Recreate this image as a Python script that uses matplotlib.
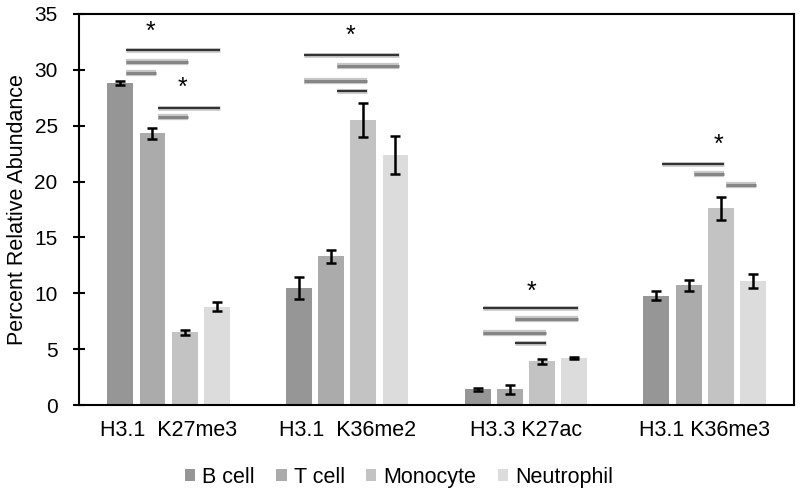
import numpy as np
import matplotlib.pyplot as plt

plt.rcParams['font.family'] = ['Liberation Sans', 'DejaVu Sans']

# data
marks = ['H3.1  K27me3', 'H3.1  K36me2', 'H3.3 K27ac', 'H3.1 K36me3']
cells = ['B cell', 'T cell', 'Monocyte', 'Neutrophil']
colors = ['#969696', '#ababab', '#c3c3c3', '#dcdcdc']

means = [
    [28.8, 10.5, 1.4, 9.8],    # B cell
    [24.3, 13.3, 1.4, 10.7],   # T cell
    [6.5, 25.5, 3.9, 17.6],    # Monocyte
    [8.8, 22.4, 4.2, 11.1],    # Neutrophil
]
errs = [
    [0.15, 1.0, 0.1, 0.4],
    [0.5, 0.6, 0.4, 0.5],
    [0.25, 1.5, 0.25, 1.0],
    [0.4, 1.7, 0.1, 0.6],
]

# significance bars: (group, from cell, to cell, height, dark?)
sig_lines = [
    (0, 0, 3, 31.8, True), (0, 0, 2, 30.7, False), (0, 0, 1, 29.7, False),
    (0, 1, 3, 26.6, True), (0, 1, 2, 25.8, False),
    (1, 0, 3, 31.3, True), (1, 1, 3, 30.35, False), (1, 0, 2, 29.0, False),
    (1, 1, 2, 28.1, True),
    (2, 0, 3, 8.7, True), (2, 1, 3, 7.7, False), (2, 0, 2, 6.45, False),
    (2, 1, 2, 5.55, True),
    (3, 0, 2, 21.6, True), (3, 1, 2, 20.7, False), (3, 2, 3, 19.7, False),
]
stars_x = [-0.1, 0.08, 1.02, 2.03, 3.08]
stars_y = [33.35, 28.35, 33.05, 10.15, 23.25]

x = np.arange(len(marks))
width = 0.145
offsets = [-0.27, -0.09, 0.09, 0.27]

fig = plt.figure(figsize=(8, 4.94), dpi=100)
ax = fig.add_axes([0.099, 0.18, 0.8935, 0.792])

for i in range(len(cells)):
    ax.bar(x + offsets[i], means[i], width, color=colors[i], label=cells[i],
           yerr=errs[i], capsize=3.5, error_kw=dict(elinewidth=1.8, capthick=1.8, ecolor='black'))

for g, a, b, h, dark in sig_lines:
    x0 = g + offsets[a] + 0.03
    x1 = g + offsets[b] + 0.02
    if dark:
        ax.plot([x0, x1], [h, h], color='#cccccc', lw=3.5, solid_capstyle='butt', zorder=3)
        ax.plot([x0, x1], [h, h], color='#333333', lw=1.6, solid_capstyle='butt', zorder=4)
    else:
        ax.plot([x0, x1], [h, h], color='#c8c8c8', lw=4.5, solid_capstyle='butt', zorder=3)
        ax.plot([x0, x1], [h, h], color='#858585', lw=2.2, solid_capstyle='butt', zorder=4)

for sx, sy in zip(stars_x, stars_y):
    ax.text(sx, sy, '*', ha='center', va='center', fontsize=18)

ax.set_xlim(-0.5, 3.5)
ax.set_ylim(0, 35)
ax.set_yticks(np.arange(0, 36, 5))
ax.set_xticks(x)
ax.set_xticklabels(marks, fontsize=15.5)
ax.tick_params(axis='y', direction='inout', length=9, width=1.5, labelsize=15, pad=11)
ax.tick_params(axis='x', length=0, pad=11)
for s in ax.spines.values():
    s.set_linewidth(1.5)
ax.set_ylabel('Percent Relative Abundance', fontsize=15.5)
ax.yaxis.set_label_coords(-0.072, 0.5)

ax.legend(loc='center', bbox_to_anchor=(0.4476, -0.184), ncol=4, frameon=False,
          fontsize=15.5, handlelength=0.47, handleheight=0.47, handletextpad=0.33,
          columnspacing=1.0)

fig.savefig('out.png')
